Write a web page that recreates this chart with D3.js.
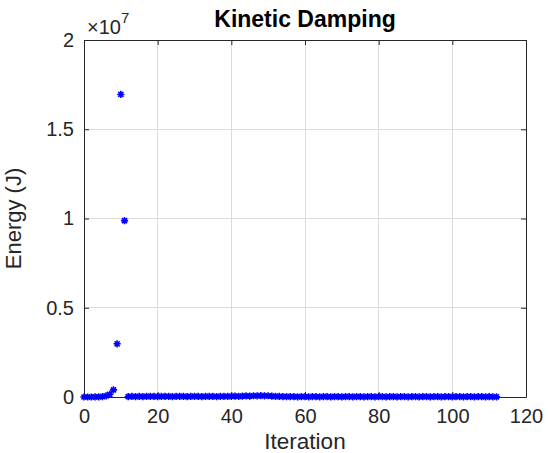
<!DOCTYPE html>
<html>
<head>
<meta charset="utf-8">
<script src="https://cdn.jsdelivr.net/npm/d3@7"></script>
<style>
  html, body { margin: 0; padding: 0; background: #fff; }
  svg { display: block; font-family: "Liberation Sans", Arial, Helvetica, sans-serif; }
</style>
</head>
<body>
<div id="chart"></div>
<script>
// ---- Data ----
const title = "Kinetic Damping";
const xLabel = "Iteration";
const yLabel = "Energy (J)";
const xTicks = [0, 20, 40, 60, 80, 100, 120];
const yTicks = [0, 5e6, 1e7, 1.5e7, 2e7];
const yTickLabels = ["0", "0.5", "1", "1.5", "2"];
const exponentLabel = "7";
const iterations = d3.range(0, 113);
const energy = [
  0, 0, 0, 10000, 10000, 20000, 60000, 150000, 400000, 2980000,
  16950000, 9880000, 20000, 30000, 20000, 30000, 20000, 30000, 40000, 30000,
  20000, 30000, 40000, 30000, 20000, 30000, 40000, 30000, 20000, 30000,
  40000, 30000, 20000, 30000, 40000, 30000, 20000, 30000, 40000, 30000,
  40000, 50000, 40000, 50000, 60000, 50000, 70000, 60000, 80000, 60000,
  70000, 50000, 40000, 30000, 20000, 20000, 20000, 20000, 10000, 20000,
  20000, 10000, 20000, 20000, 10000, 20000, 20000, 10000, 20000, 20000,
  10000, 20000, 20000, 10000, 20000, 20000, 10000, 20000, 20000, 10000,
  20000, 20000, 10000, 20000, 20000, 10000, 20000, 20000, 10000, 20000,
  20000, 10000, 20000, 20000, 10000, 20000, 20000, 10000, 20000, 20000,
  10000, 20000, 20000, 10000, 20000, 20000, 10000, 20000, 20000, 10000,
  20000, 10000, 10000
];
const points = iterations.map((it, i) => ({ x: it, y: energy[i] }));

// ---- Layout ----
const W = 548, H = 453;
const margin = { left: 84, right: 22, top: 40, bottom: 56 };
const iw = W - margin.left - margin.right;
const ih = H - margin.top - margin.bottom;
const textColor = "#262626";

const svg = d3.select("#chart").append("svg").attr("width", W).attr("height", H);
const g = svg.append("g").attr("transform", `translate(${margin.left},${margin.top})`);

const x = d3.scaleLinear().domain([0, 120]).range([0, iw]);
const y = d3.scaleLinear().domain([0, 2e7]).range([ih, 0]);

// grid
g.append("g").selectAll("line").data(xTicks.slice(1, -1)).join("line")
  .attr("x1", d => x(d)).attr("x2", d => x(d)).attr("y1", 0).attr("y2", ih)
  .attr("stroke", "#dcdcdc").attr("stroke-width", 1).attr("shape-rendering", "crispEdges");
g.append("g").selectAll("line").data(yTicks.slice(1, -1)).join("line")
  .attr("y1", d => y(d)).attr("y2", d => y(d)).attr("x1", 0).attr("x2", iw)
  .attr("stroke", "#dcdcdc").attr("stroke-width", 1).attr("shape-rendering", "crispEdges");

// axes (ticks inward)
const fontSize = "20px";
const xAxis = d3.axisBottom(x).tickValues(xTicks).tickSizeInner(-5).tickSizeOuter(0).tickPadding(12);
const yAxis = d3.axisLeft(y).tickValues(yTicks).tickSizeInner(-5).tickSizeOuter(0).tickPadding(10)
  .tickFormat((d, i) => yTickLabels[i]);
const xTop = d3.axisTop(x).tickValues(xTicks).tickSizeInner(-5).tickSizeOuter(0).tickFormat("");
const yRight = d3.axisRight(y).tickValues(yTicks).tickSizeInner(-5).tickSizeOuter(0).tickFormat("");

function style(sel) {
  sel.attr("font-family", null).attr("font-size", null);
  sel.selectAll("path").attr("stroke", textColor).attr("stroke-width", 1);
  sel.selectAll("line").attr("stroke", textColor).attr("stroke-width", 1);
  sel.selectAll("text").attr("fill", textColor).style("font-size", fontSize);
}
g.append("g").attr("transform", `translate(0,${ih})`).call(xAxis).call(style);
g.append("g").call(yAxis).call(style);
g.append("g").call(xTop).call(style);
g.append("g").attr("transform", `translate(${iw},0)`).call(yRight).call(style);

// exponent label
const ex = g.append("text").attr("x", 3).attr("y", -6).attr("fill", textColor).style("font-size", "20px");
ex.append("tspan").style("font-size", "20px").text("\u00d710");
ex.append("tspan").attr("dy", -11).style("font-size", "15px").text(exponentLabel);

// markers: MATLAB-style '*'
const r = 3.6;
const d45 = r * Math.SQRT1_2;
const starPath = `M${-r},0L${r},0M0,${-r}L0,${r}M${-d45},${-d45}L${d45},${d45}M${-d45},${d45}L${d45},${-d45}`;
g.append("g").selectAll("path").data(points).join("path")
  .attr("transform", d => `translate(${x(d.x)},${y(d.y)})`)
  .attr("d", starPath)
  .attr("fill", "none").attr("stroke", "#0000ff").attr("stroke-width", 1.6);

// title and labels
svg.append("text").attr("x", margin.left + iw / 2).attr("y", 27)
  .attr("text-anchor", "middle").attr("font-weight", "bold").style("font-size", "23px")
  .attr("fill", "#000").text(title);
svg.append("text").attr("x", margin.left + iw / 2).attr("y", 449)
  .attr("text-anchor", "middle").style("font-size", "22.5px").attr("fill", textColor).text(xLabel);
svg.append("text").attr("transform", `translate(21,${margin.top + ih / 2}) rotate(-90)`)
  .attr("text-anchor", "middle").style("font-size", "22px").attr("fill", textColor).text(yLabel);
</script>
</body>
</html>
